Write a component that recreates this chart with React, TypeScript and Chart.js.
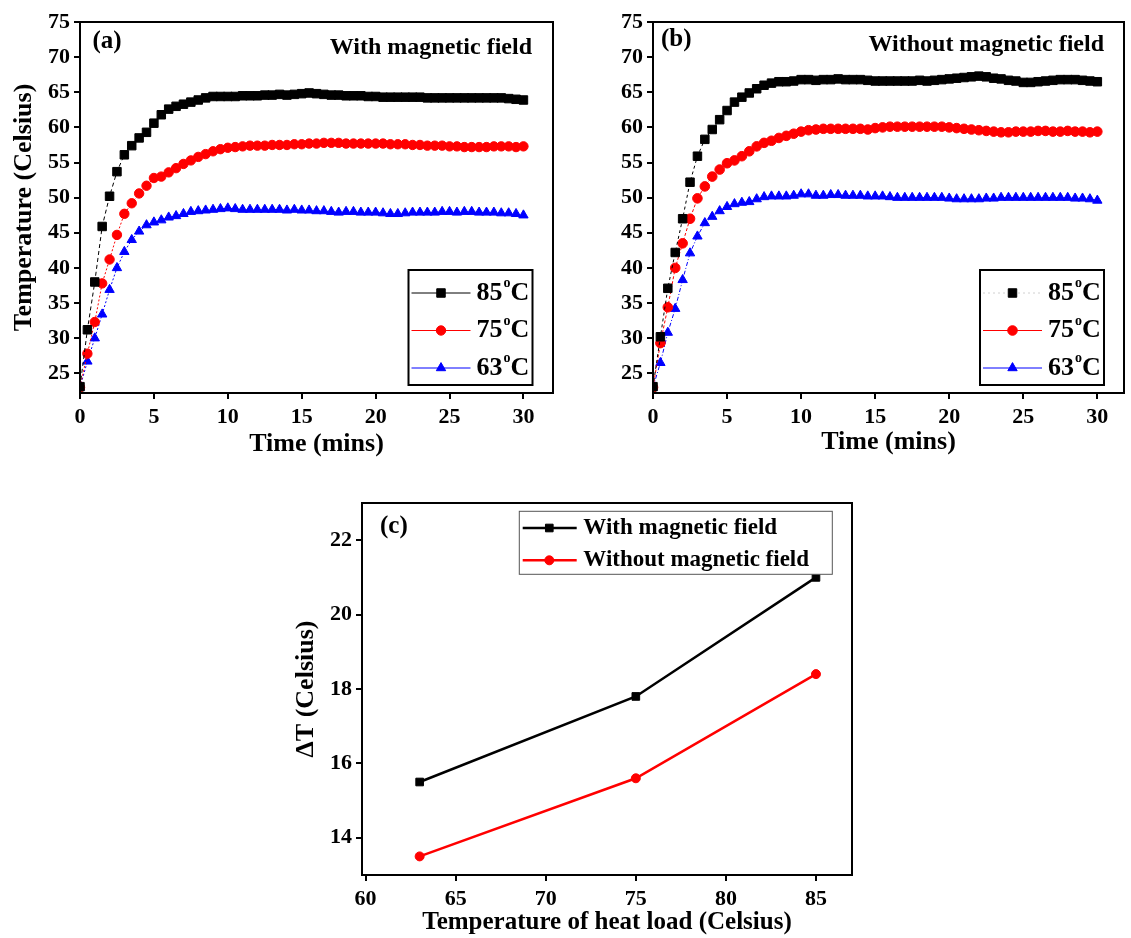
import React, { useEffect, useRef } from 'react';
import Chart from 'chart.js/auto';
import { drawPoint } from 'chart.js/helpers';

const FONT = "'Liberation Serif', 'Times New Roman', serif";

// ---------- data ----------
const timeMins = [
  0, 0.5, 1, 1.5, 2, 2.5, 3, 3.5, 4, 4.5, 5, 5.5, 6, 6.5, 7, 7.5, 8, 8.5, 9, 9.5,
  10, 10.5, 11, 11.5, 12, 12.5, 13, 13.5, 14, 14.5, 15, 15.5, 16, 16.5, 17, 17.5, 18, 18.5, 19, 19.5,
  20, 20.5, 21, 21.5, 22, 22.5, 23, 23.5, 24, 24.5, 25, 25.5, 26, 26.5, 27, 27.5, 28, 28.5, 29, 29.5, 30,
];

// (a) With magnetic field
const withField85 = [
  23.1, 31.2, 38.0, 45.9, 50.2, 53.7, 56.1, 57.4, 58.5, 59.3, 60.6, 61.8, 62.6, 63.0, 63.3, 63.6, 63.9, 64.2, 64.4, 64.4,
  64.4, 64.4, 64.5, 64.5, 64.5, 64.6, 64.6, 64.7, 64.6, 64.7, 64.8, 64.9, 64.8, 64.7, 64.6, 64.6, 64.5, 64.5, 64.5, 64.4,
  64.4, 64.3, 64.3, 64.3, 64.3, 64.3, 64.3, 64.2, 64.2, 64.2, 64.2, 64.2, 64.2, 64.2, 64.2, 64.2, 64.2, 64.2, 64.1, 64.0, 63.9,
];
const withField75 = [
  23.0, 27.8, 32.3, 37.8, 41.2, 44.7, 47.7, 49.2, 50.6, 51.7, 52.8, 53.0, 53.6, 54.2, 54.8, 55.3, 55.8, 56.2, 56.6, 56.9,
  57.1, 57.2, 57.3, 57.4, 57.4, 57.4, 57.5, 57.5, 57.5, 57.6, 57.6, 57.7, 57.7, 57.8, 57.8, 57.8, 57.7, 57.7, 57.7, 57.7,
  57.7, 57.7, 57.6, 57.6, 57.6, 57.5, 57.5, 57.4, 57.4, 57.4, 57.3, 57.3, 57.2, 57.2, 57.2, 57.2, 57.3, 57.3, 57.3, 57.2, 57.3,
];
const withField63 = [
  23.0, 26.7, 30.0, 33.4, 36.9, 40.0, 42.3, 44.0, 45.2, 46.1, 46.5, 46.8, 47.2, 47.4, 47.7, 48.0, 48.1, 48.2, 48.3, 48.4,
  48.5, 48.4, 48.3, 48.3, 48.3, 48.3, 48.3, 48.3, 48.2, 48.3, 48.2, 48.2, 48.1, 48.1, 48.0, 47.9, 48.0, 48.0, 47.9, 47.9,
  47.9, 47.8, 47.7, 47.7, 47.8, 47.9, 47.9, 47.9, 47.9, 48.0, 48.0, 47.9, 48.0, 48.0, 47.9, 47.9, 47.9, 47.8, 47.8, 47.7, 47.5,
];

// (b) Without magnetic field
const noField85 = [
  23.1, 30.2, 37.1, 42.2, 47.0, 52.2, 55.9, 58.3, 59.7, 61.1, 62.4, 63.6, 64.3, 64.9, 65.5, 66.0, 66.3, 66.5, 66.5, 66.6,
  66.8, 66.8, 66.7, 66.8, 66.8, 66.9, 66.8, 66.8, 66.8, 66.7, 66.6, 66.6, 66.6, 66.6, 66.6, 66.6, 66.7, 66.6, 66.7, 66.8,
  66.9, 67.0, 67.1, 67.2, 67.3, 67.2, 67.0, 66.9, 66.7, 66.6, 66.4, 66.4, 66.5, 66.6, 66.7, 66.8, 66.8, 66.8, 66.7, 66.6, 66.5,
];
const noField75 = [
  23.0, 29.3, 34.4, 40.0, 43.5, 47.0, 49.9, 51.6, 53.0, 54.0, 54.9, 55.3, 55.9, 56.6, 57.3, 57.8, 58.1, 58.5, 58.8, 59.1,
  59.4, 59.6, 59.7, 59.8, 59.8, 59.8, 59.8, 59.8, 59.8, 59.7, 59.9, 60.0, 60.1, 60.1, 60.1, 60.1, 60.1, 60.1, 60.1, 60.1,
  60.0, 59.9, 59.8, 59.7, 59.6, 59.5, 59.4, 59.3, 59.3, 59.4, 59.4, 59.4, 59.5, 59.5, 59.4, 59.4, 59.5, 59.4, 59.4, 59.3, 59.4,
];
const noField63 = [
  23.0, 26.5, 30.8, 34.2, 38.3, 42.1, 44.5, 46.4, 47.3, 48.1, 48.7, 49.1, 49.3, 49.4, 49.8, 50.1, 50.2, 50.2, 50.2, 50.3,
  50.5, 50.5, 50.3, 50.3, 50.4, 50.4, 50.3, 50.3, 50.3, 50.2, 50.2, 50.2, 50.1, 50.0, 50.0, 50.0, 50.0, 50.0, 50.0, 50.0,
  49.9, 49.8, 49.8, 49.8, 49.8, 49.9, 49.9, 50.0, 50.0, 50.0, 50.0, 50.0, 50.0, 50.0, 50.0, 50.0, 50.0, 49.9, 49.9, 49.8, 49.6,
];

const seriesLabels = ['85°C', '75°C', '63°C'];

// (c) Delta T vs heat load temperature
const heatLoad = [63, 75, 85];
const deltaTWith = [15.5, 17.8, 21.0];
const deltaTWithout = [13.5, 15.6, 18.4];

// tick labels
const timeTicks = [0, 5, 10, 15, 20, 25, 30];
const tempTicks = [25, 30, 35, 40, 45, 50, 55, 60, 65, 70, 75];
const heatTicks = [60, 65, 70, 75, 80, 85];
const deltaTicks = [14, 16, 18, 20, 22];

// ---------- plugins ----------
function drawLabel(ctx: CanvasRenderingContext2D, text: string, x: number, cy: number, size: number) {
  ctx.textBaseline = 'middle';
  ctx.textAlign = 'left';
  ctx.fillStyle = '#000';
  ctx.font = `bold ${size}px ${FONT}`;
  const idx = text.indexOf('°');
  if (idx < 0) {
    ctx.fillText(text, x, cy);
    return;
  }
  const a = text.slice(0, idx);
  const b = text.slice(idx + 1);
  ctx.fillText(a, x, cy);
  let w = ctx.measureText(a).width + 1;
  ctx.font = `bold ${Math.round(size * 0.55)}px ${FONT}`;
  ctx.fillText('o', x + w, cy - size * 0.36);
  w += ctx.measureText('o').width;
  ctx.font = `bold ${size}px ${FONT}`;
  ctx.fillText(b, x + w, cy);
}

const framePlugin = {
  id: 'frame',
  afterDatasetsDraw(chart: any) {
    const { ctx, chartArea: a } = chart;
    ctx.save();
    ctx.strokeStyle = '#000';
    ctx.lineWidth = 2;
    ctx.strokeRect(a.left, a.top, a.right - a.left, a.bottom - a.top);
    ctx.restore();
  },
};

const annotPlugin = {
  id: 'annot',
  afterDraw(chart: any, _args: any, opts: any) {
    if (!opts || !opts.items) return;
    const { ctx, chartArea: a } = chart;
    ctx.save();
    for (const it of opts.items) {
      ctx.font = `bold ${it.size}px ${FONT}`;
      ctx.fillStyle = '#000';
      ctx.textBaseline = 'middle';
      ctx.textAlign = it.from;
      const x = it.from === 'left' ? a.left + it.dx : a.right - it.dx;
      ctx.fillText(it.text, x, a.top + it.dy);
    }
    ctx.restore();
  },
};

const boxLegendPlugin = {
  id: 'boxLegend',
  afterDraw(chart: any, _args: any, o: any) {
    if (!o || !o.width) return;
    const { ctx, chartArea: a } = chart;
    const x0 = a.right - o.right - o.width;
    const y0 = o.top != null ? a.top + o.top : a.bottom - o.bottom - o.height;
    ctx.save();
    ctx.fillStyle = '#fff';
    ctx.fillRect(x0, y0, o.width, o.height);
    ctx.strokeStyle = o.borderColor;
    ctx.lineWidth = o.borderWidth;
    ctx.strokeRect(x0, y0, o.width, o.height);
    chart.data.datasets.forEach((ds: any, i: number) => {
      const cy = y0 + o.firstRow + i * o.rowGap;
      ctx.save();
      ctx.strokeStyle = ds.legendLineColor || ds.borderColor;
      ctx.lineWidth = ds.legendLineWidth || ds.borderWidth;
      ctx.setLineDash(ds.legendLineDash || []);
      ctx.beginPath();
      ctx.moveTo(x0 + o.lineStart, cy);
      ctx.lineTo(x0 + o.lineEnd, cy);
      ctx.stroke();
      ctx.restore();
      ctx.fillStyle = ds.pointBackgroundColor;
      ctx.strokeStyle = ds.pointBorderColor;
      ctx.lineWidth = ds.pointBorderWidth;
      drawPoint(ctx, { pointStyle: ds.pointStyle, radius: ds.pointRadius, borderWidth: ds.pointBorderWidth, rotation: 0 } as any, x0 + o.marker, cy);
      drawLabel(ctx, ds.label, x0 + o.textX, cy, o.fontSize);
    });
    ctx.restore();
  },
};

// ---------- helpers ----------
function linAxis(cfg: any) {
  const horizontal = cfg.horizontal;
  return {
    type: 'linear',
    position: horizontal ? 'bottom' : 'left',
    min: cfg.min,
    max: cfg.max,
    afterBuildTicks: (s: any) => {
      s.ticks = cfg.ticks.map((v: number) => ({ value: v }));
    },
    afterFit: (s: any) => {
      if (horizontal) s.height = cfg.size;
      else s.width = cfg.size;
    },
    grid: {
      display: true,
      drawOnChartArea: false,
      drawTicks: true,
      tickLength: 6,
      tickWidth: 2,
      tickColor: '#000',
      color: '#000',
      lineWidth: 2,
    },
    border: { display: true, color: '#000', width: 2 },
    ticks: {
      color: '#000',
      font: { family: FONT, size: cfg.tickSize || 22, weight: 'bold' },
      padding: cfg.tickPad,
      maxRotation: 0,
      autoSkip: false,
      includeBounds: false,
    },
    title: cfg.title
      ? {
          display: true,
          text: cfg.title,
          color: '#000',
          font: { family: FONT, size: cfg.titleSize || 26, weight: 'bold' },
          padding: cfg.titlePad,
        }
      : { display: false },
  };
}

function seriesDataset(label: string, values: number[], color: string, style: string, radius: number, dash: number[], extra: any = {}) {
  return {
    label,
    data: timeMins.map((t, i) => ({ x: t, y: values[i] })),
    borderColor: color,
    backgroundColor: color,
    borderWidth: 1,
    borderDash: dash,
    pointStyle: style,
    pointRadius: radius,
    pointBackgroundColor: color,
    pointBorderColor: color,
    pointBorderWidth: 1,
    tension: 0,
    ...extra,
  };
}

const tempLegend = {
  right: 20.5,
  bottom: 8,
  width: 124,
  height: 115,
  firstRow: 23,
  rowGap: 37.5,
  lineStart: 3,
  lineEnd: 62,
  marker: 32.5,
  textX: 68,
  fontSize: 26,
  borderColor: '#000',
  borderWidth: 2,
};

function configA() {
  return {
    type: 'line',
    data: {
      datasets: [
        seriesDataset(seriesLabels[0], withField85, '#000000', 'rect', 6.0, [4, 3]),
        seriesDataset(seriesLabels[1], withField75, '#ff0000', 'circle', 4.7, [2, 2]),
        seriesDataset(seriesLabels[2], withField63, '#0000ff', 'triangle', 5.4, [2, 2]),
      ],
    },
    options: {
      animation: false,
      responsive: false,
      devicePixelRatio: 1,
      layout: { padding: { top: 22, right: 2, left: 0, bottom: 0 } },
      scales: {
        x: linAxis({ horizontal: true, min: 0, max: 32, ticks: timeTicks, size: 67, tickPad: 5, title: 'Time (mins)', titlePad: { top: 0, bottom: 0 } }),
        y: linAxis({ horizontal: false, min: 22.2, max: 75, ticks: tempTicks, size: 80, tickPad: 4, title: 'Temperature (Celsius)', titlePad: { top: 9, bottom: 0 } }),
      },
      plugins: {
        legend: { display: false },
        tooltip: { enabled: false },
        annot: {
          items: [
            { text: '(a)', from: 'left', dx: 12.5, dy: 19.5, size: 25 },
            { text: 'With magnetic field', from: 'right', dx: 21, dy: 26, size: 24 },
          ],
        },
        boxLegend: tempLegend,
      },
    },
    plugins: [framePlugin, annotPlugin, boxLegendPlugin],
  };
}

function configB() {
  return {
    type: 'line',
    data: {
      datasets: [
        seriesDataset(seriesLabels[0], noField85, '#000000', 'rect', 6.0, [3, 3], {
          legendLineColor: '#d0d0d0',
          legendLineDash: [2, 3],
        }),
        seriesDataset(seriesLabels[1], noField75, '#ff0000', 'circle', 4.8, [3, 2]),
        seriesDataset(seriesLabels[2], noField63, '#0000ff', 'triangle', 5.4, [4, 2, 1, 2]),
      ],
    },
    options: {
      animation: false,
      responsive: false,
      devicePixelRatio: 1,
      layout: { padding: { top: 22, right: 3, left: 0, bottom: 0 } },
      scales: {
        x: linAxis({ horizontal: true, min: 0, max: 31.8, ticks: timeTicks, size: 67, tickPad: 5, title: 'Time (mins)', titlePad: { top: 0, bottom: 2 } }),
        y: linAxis({ horizontal: false, min: 22.2, max: 75, ticks: tempTicks, size: 88, tickPad: 4 }),
      },
      plugins: {
        legend: { display: false },
        tooltip: { enabled: false },
        annot: {
          items: [
            { text: '(b)', from: 'left', dx: 8, dy: 18, size: 25 },
            { text: 'Without magnetic field', from: 'right', dx: 20, dy: 23, size: 24 },
          ],
        },
        boxLegend: { ...tempLegend, right: 20 },
      },
    },
    plugins: [framePlugin, annotPlugin, boxLegendPlugin],
  };
}

function configC() {
  return {
    type: 'line',
    data: {
      datasets: [
        {
          label: 'With magnetic field',
          data: heatLoad.map((h, i) => ({ x: h, y: deltaTWith[i] })),
          borderColor: '#000000',
          backgroundColor: '#000000',
          borderWidth: 2.5,
          pointStyle: 'rect',
          pointRadius: 5.4,
          pointBackgroundColor: '#000000',
          pointBorderColor: '#000000',
          pointBorderWidth: 1,
          tension: 0,
        },
        {
          label: 'Without magnetic field',
          data: heatLoad.map((h, i) => ({ x: h, y: deltaTWithout[i] })),
          borderColor: '#ff0000',
          backgroundColor: '#ff0000',
          borderWidth: 2.5,
          pointStyle: 'circle',
          pointRadius: 4.5,
          pointBackgroundColor: '#ff0000',
          pointBorderColor: '#ff0000',
          pointBorderWidth: 1,
          tension: 0,
        },
      ],
    },
    options: {
      animation: false,
      responsive: false,
      devicePixelRatio: 1,
      layout: { padding: { top: 23, right: 18, left: 0, bottom: 0 } },
      scales: {
        x: linAxis({ horizontal: true, min: 59.8, max: 87, ticks: heatTicks, size: 63, tickPad: 5, title: 'Temperature of heat load (Celsius)', titleSize: 25, titlePad: { top: 0, bottom: 0 } }),
        y: linAxis({ horizontal: false, min: 13, max: 23, ticks: deltaTicks, size: 92, tickPad: 4, title: 'ΔT (Celsius)', titlePad: { top: 21, bottom: 0 } }),
      },
      plugins: {
        legend: { display: false },
        tooltip: { enabled: false },
        annot: {
          items: [{ text: '(c)', from: 'left', dx: 18, dy: 24, size: 25 }],
        },
        boxLegend: {
          right: 19.7,
          top: 8.3,
          width: 313,
          height: 63,
          firstRow: 16.7,
          rowGap: 32.3,
          lineStart: 3.4,
          lineEnd: 57.4,
          marker: 30,
          textX: 64,
          fontSize: 23,
          borderColor: '#555555',
          borderWidth: 1,
        },
      },
    },
    plugins: [framePlugin, annotPlugin, boxLegendPlugin],
  };
}

function ChartBox({ left, top, width, height, make }: { left: number; top: number; width: number; height: number; make: () => any }) {
  const ref = useRef<HTMLCanvasElement | null>(null);
  useEffect(() => {
    if (!ref.current) return;
    const chart = new Chart(ref.current, make());
    return () => chart.destroy();
  }, []);
  return (
    <div style={{ position: 'absolute', left, top, width, height }}>
      <canvas ref={ref} width={width} height={height} style={{ display: 'block', width, height }} />
    </div>
  );
}

export default function App() {
  return (
    <div style={{ position: 'absolute', left: 0, top: 0, width: 1131, height: 938, background: '#fff', overflow: 'hidden' }}>
      <ChartBox left={0} top={0} width={560} height={460} make={configA} />
      <ChartBox left={565} top={0} width={566} height={460} make={configB} />
      <ChartBox left={270} top={480} width={600} height={458} make={configC} />
    </div>
  );
}
